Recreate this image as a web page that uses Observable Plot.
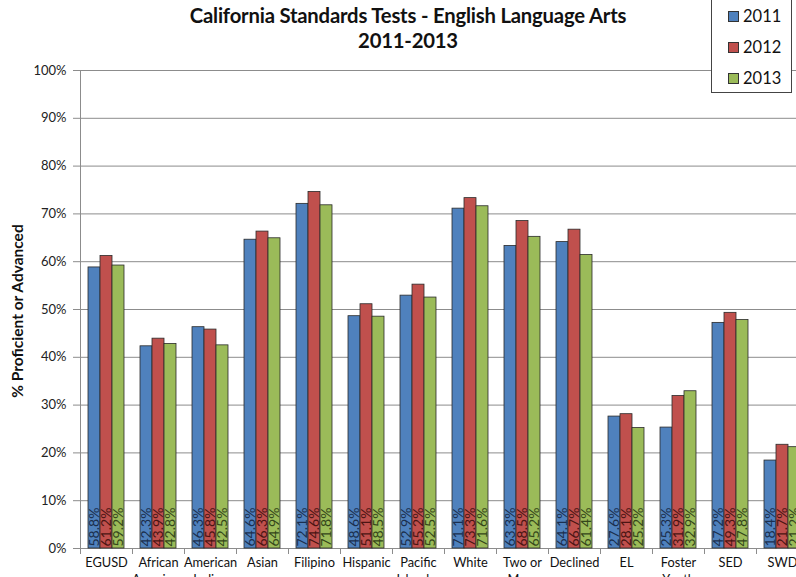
<!DOCTYPE html>
<html>
<head>
<meta charset="utf-8">
<script src="https://cdn.jsdelivr.net/npm/d3@7"></script>
<script src="https://cdn.jsdelivr.net/npm/@observablehq/plot@0.6"></script>
<style>
  html, body { margin: 0; padding: 0; background: #fff; overflow: hidden; width: 796px; height: 577px; }
  #wrap { position: relative; width: 796px; height: 577px; overflow: hidden; font-family: Lato, "Open Sans", sans-serif; }
  #title { position: absolute; left: 0; width: 816px; top: 3px; text-align: center; font-weight: bold; font-size: 20.3px; line-height: 25px; color: #111; letter-spacing: -0.2px; }
  #ylabel { position: absolute; left: 17px; top: 311px; transform: translate(-50%, -50%) rotate(-90deg); white-space: nowrap; font-weight: bold; font-size: 15.5px; color: #111; }
  #legend { position: absolute; left: 711px; top: -1px; width: 79px; height: 92px; border: 1px solid #444; background: #fff; }
  .li { position: absolute; left: 16px; font-size: 16.5px; line-height: 16px; color: #111; display: flex; align-items: center; }
  .sw { width: 9px; height: 9px; border: 1px solid #333; margin-right: 4px; }
  #chart { position: absolute; left: 0; top: 0; }
  #chart svg { max-width: none !important; }
</style>
</head>
<body>
<div id="wrap">
  <div id="chart"></div>
  <div id="title">California Standards Tests - English Language Arts<br>2011-2013</div>
  <div id="ylabel">% Proficient or Advanced</div>
  <div id="legend"></div>
</div>
<script>
const categories = ["EGUSD","African American","American Indian","Asian","Filipino","Hispanic","Pacific Islander","White","Two or More","Declined","EL","Foster Youth","SED","SWD"];
const tickLabels = ["EGUSD","African\nAmerican","American\nIndian","Asian","Filipino","Hispanic","Pacific\nIslander","White","Two or\nMore","Declined","EL","Foster\nYouth","SED","SWD"];
const years = ["2011","2012","2013"];
const v2011 = [58.8,42.3,46.3,64.6,72.1,48.6,52.9,71.1,63.3,64.1,27.6,25.3,47.2,18.4];
const v2012 = [61.2,43.9,45.8,66.3,74.6,51.1,55.2,73.3,68.5,66.7,28.1,31.9,49.3,21.7];
const v2013 = [59.2,42.8,42.5,64.9,71.8,48.5,52.5,71.6,65.2,61.4,25.2,32.9,47.8,21.2];
const yTicks = [0,10,20,30,40,50,60,70,80,90,100];

const barColors = ["#4F81BD","#C0504D","#9BBB59"];
const textColors = ["#1b2f4e","#4a1413","#34461a"];

const series = [v2011, v2012, v2013];
const data = [];
categories.forEach((c, i) => years.forEach((y, j) => data.push({category: c, year: y, value: series[j][i]})));
const labelOf = new Map(categories.map((c, i) => [c, tickLabels[i]]));

const plotH = 478;
const chart = Plot.plot({
  width: 811,
  height: 600,
  marginLeft: 77,
  marginRight: 0,
  marginTop: 70,
  marginBottom: 52,
  style: {fontFamily: "Lato, 'Open Sans', sans-serif", background: "transparent", maxWidth: "none"},
  fx: {domain: categories, padding: 0},
  x: {domain: years, paddingInner: 0, paddingOuter: 0.61},
  y: {domain: [0, 100]},
  color: {domain: years, range: barColors},
  marks: [
    Plot.ruleY(yTicks, {stroke: "#8c8c8c", strokeWidth: 1}),
    Plot.frame({anchor: "left", stroke: "#8c8c8c", insetTop: plotH, insetBottom: -5}),
    Plot.frame({anchor: "left", stroke: "#8c8c8c", facetAnchor: "left"}),
    Plot.barY(data, {fx: "category", x: "year", y: "value", fill: "year", stroke: "#2a2a2a", strokeWidth: 0.8}),
    Plot.text(data, {fx: "category", x: "year", y: 0, text: d => d.value.toFixed(1) + "%", rotate: -90, textAnchor: "start", dy: -2, fontSize: 14, fill: d => textColors[years.indexOf(d.year)]}),
    Plot.axisY({ticks: yTicks, tickFormat: d => d + "%", tickSize: 7, tickPadding: 7, fontSize: 13, stroke: "#8c8c8c", color: "#222", label: null}),
    Plot.axisFx({anchor: "bottom", tickSize: 0, tickPadding: 6, fontSize: 12.8, lineHeight: 1.35, tickFormat: d => labelOf.get(d), label: null, color: "#111"}),
    Plot.axisX({ticks: [], label: null})
  ]
});
document.getElementById("chart").appendChild(chart);

const legend = document.getElementById("legend");
years.forEach((y, j) => {
  const d = document.createElement("div");
  d.className = "li";
  d.style.top = (8 + j * 31) + "px";
  d.innerHTML = `<span class="sw" style="background:${barColors[j]}"></span>${y}`;
  legend.appendChild(d);
});
</script>
</body>
</html>
